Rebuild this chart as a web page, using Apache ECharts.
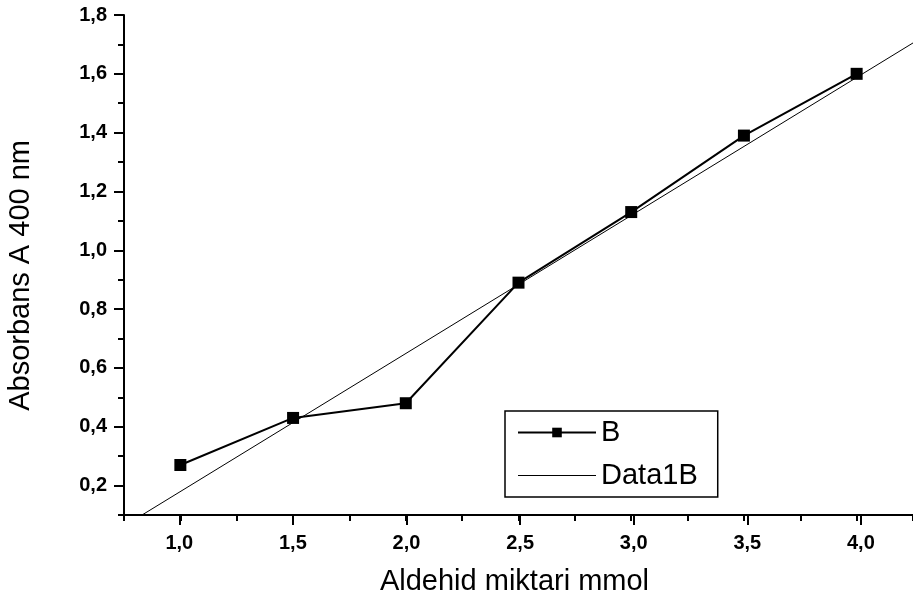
<!DOCTYPE html>
<html>
<head>
<meta charset="utf-8">
<script src="https://cdn.jsdelivr.net/npm/echarts@6/dist/echarts.min.js"></script>
<style>
html,body{margin:0;padding:0;background:#fff;}
#chart{width:913px;height:604px;}
</style>
</head>
<body>
<div id="chart"></div>
<script>
// Data
var xValues = [1.0, 1.5, 2.0, 2.5, 3.0, 3.5, 4.0];
var seriesB = [0.27, 0.43, 0.48, 0.89, 1.13, 1.39, 1.60];
// Fitted line "Data1B" (end points)
var fitX = [0.83, 4.25];
var fitY = [0.10, 1.705];
var xTitle = 'Aldehid miktari mmol';
var yTitle = 'Absorbans A 400 nm';
var seriesNames = ['B', 'Data1B'];

var FONT = '"Liberation Sans", Arial, sans-serif';
function comma(v){ return String(Number(v).toFixed(1)).replace('.', ','); }

var chart = echarts.init(document.getElementById('chart'));
var option = {
  backgroundColor: '#fff',
  animation: false,
  grid: [
    {left: 124, top: 15, width: 794, height: 500},          // data + minor ticks
    {left: 179.3, top: 15, width: 681.6, height: 500},      // major x ticks
    {left: 124, top: 15, width: 794, height: 470.6}         // major y ticks
  ],
  xAxis: [
    {gridIndex: 0, type: 'value', min: 0.75, max: 4.25, interval: 0.25,
     axisLine: {show: true, lineStyle: {color: '#000', width: 2}},
     axisTick: {show: true, inside: false, length: 6, lineStyle: {color: '#000', width: 2}},
     axisLabel: {show: false}, splitLine: {show: false},
     name: xTitle, nameLocation: 'middle', nameGap: 52,
     nameTextStyle: {color: '#000', fontFamily: FONT, fontSize: 29, padding: [0, 8, 0, 0]}},
    {gridIndex: 1, type: 'value', min: 1.0, max: 4.0, interval: 0.5,
     axisLine: {show: false},
     axisTick: {show: true, inside: false, length: 10, lineStyle: {color: '#000', width: 2}},
     axisLabel: {show: true, margin: 18, formatter: comma, color: '#000', fontFamily: FONT, fontWeight: 'bold', fontSize: 20},
     splitLine: {show: false}},
    {gridIndex: 2, type: 'value', show: false, min: 0.75, max: 4.25}
  ],
  yAxis: [
    {gridIndex: 0, type: 'value', min: 0.1, max: 1.8, interval: 0.1,
     axisLine: {show: true, lineStyle: {color: '#000', width: 2}},
     axisTick: {show: true, inside: false, length: 6, lineStyle: {color: '#000', width: 2}},
     axisLabel: {show: false}, splitLine: {show: false}},
    {gridIndex: 1, type: 'value', show: false, min: 0.1, max: 1.8},
    {gridIndex: 2, type: 'value', min: 0.2, max: 1.8, interval: 0.2,
     axisLine: {show: false},
     axisTick: {show: true, inside: false, length: 10, lineStyle: {color: '#000', width: 2}},
     axisLabel: {show: true, margin: 17, formatter: comma, color: '#000', fontFamily: FONT, fontWeight: 'bold', fontSize: 20},
     splitLine: {show: false}}
  ],
  legend: {
    left: 505, top: 411, orient: 'vertical',
    borderColor: '#000', borderWidth: 1.5,
    padding: [7, 20, 7, 12],
    itemWidth: 78, itemHeight: 12, itemGap: 14,
    textStyle: {color: '#000', fontFamily: FONT, fontSize: 29},
    data: [
      {name: seriesNames[0], lineStyle: {width: 2}},
      {name: seriesNames[1], lineStyle: {width: 1}, itemStyle: {opacity: 0}}
    ]
  },
  graphic: [
    {type: 'text', left: 6, top: 140, rotation: Math.PI / 2,
     style: {text: yTitle, fill: '#000', font: '29px ' + FONT}}
  ],
  series: [
    {name: seriesNames[0], type: 'line', xAxisIndex: 0, yAxisIndex: 0,
     data: xValues.map(function(x, i){ return [x, seriesB[i]]; }),
     symbol: 'rect', symbolSize: 12,
     lineStyle: {color: '#000', width: 2},
     itemStyle: {color: '#000'}, z: 3},
    {name: seriesNames[1], type: 'line', xAxisIndex: 0, yAxisIndex: 0,
     data: fitX.map(function(x, i){ return [x, fitY[i]]; }),
     symbol: 'none', lineStyle: {color: '#000', width: 1},
     itemStyle: {color: '#000'}, z: 2}
  ]
};
chart.setOption(option);
</script>
</body>
</html>
